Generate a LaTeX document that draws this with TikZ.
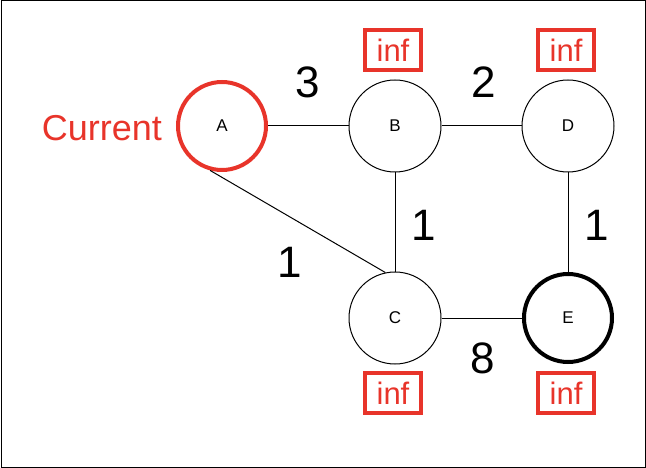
\documentclass[tikz,border=0pt]{standalone}
\usepackage{fontspec}
\setmainfont{Liberation Sans}
\definecolor{myred}{RGB}{232,52,42}
\begin{document}
\begin{tikzpicture}[x=1pt,y=-1pt,
  vert/.style={circle,draw,line width=1pt,minimum size=92pt,inner sep=0pt,font=\fontsize{17}{17}\selectfont},
  wt/.style={font=\fontsize{44}{44}\selectfont},
  infbox/.style={draw=myred,line width=3.5pt,text=myred,minimum width=56pt,minimum height=40pt,inner sep=0pt,font=\fontsize{31}{31}\selectfont},
  edge/.style={line width=1pt}]
\draw[line width=1pt] (1,1) rectangle (645,467);
\useasboundingbox (0,0) rectangle (646,468);
\node[vert,draw=myred,line width=4pt,minimum size=88pt] (A) at (222,126) {A};
\node[vert] (B) at (395,126) {B};
\node[vert] (D) at (568,126) {D};
\node[vert] (C) at (395,318) {C};
\node[vert,line width=4pt,minimum size=88pt] (E) at (568,318) {E};
\draw[edge] (A) -- (B);
\draw[edge] (B) -- (D);
\draw[edge] (B) -- (C);
\draw[edge] (D) -- (E);
\draw[edge] (C) -- (E);
\draw[edge] (A.-105) -- (C.102);
\node[wt] (w1) at (308,82) {3};
\node[wt] (w2) at (484,82) {2};
\node[wt] (w3) at (424,225) {1};
\node[wt] (w4) at (597,225) {1};
\node[wt] (w5) at (290,262) {1};
\node[wt] (w6) at (483,358) {8};
\node[text=myred,font=\fontsize{36}{36}\selectfont] (cur) at (102,128) {Current};
\node[infbox] (iB) at (393,50) {inf};
\node[infbox] (iD) at (566,50) {inf};
\node[infbox] (iC) at (393,393) {inf};
\node[infbox] (iE) at (566,393) {inf};
\end{tikzpicture}
\end{document}
